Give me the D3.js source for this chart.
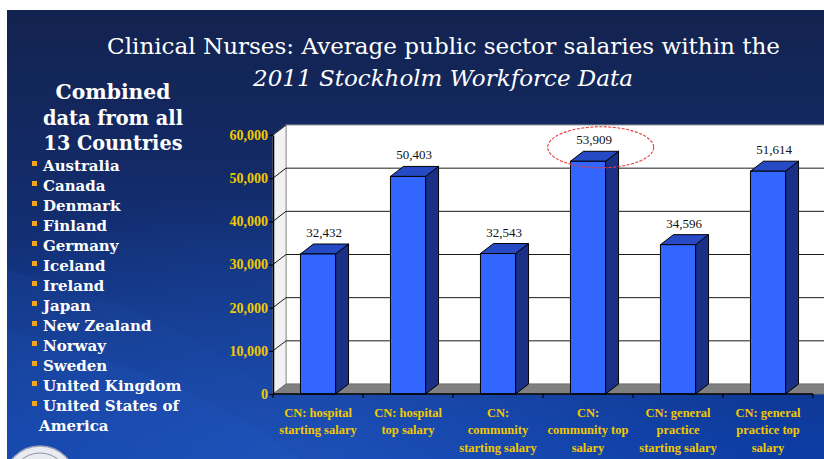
<!DOCTYPE html>
<html><head><meta charset="utf-8">
<script src="https://cdn.jsdelivr.net/npm/d3@7"></script>
<style>html,body{margin:0;padding:0;background:#fff;}svg{display:block;}</style>
</head><body>
<svg id="chart" width="824" height="459"></svg>
<script>
// ---- data ----
const categories = [
  "CN: hospital|starting salary",
  "CN: hospital|top salary",
  "CN:|community|starting salary",
  "CN:|community top|salary",
  "CN: general|practice|starting salary",
  "CN: general|practice  top|salary"
];
const salaries = [32432, 50403, 32543, 53909, 34596, 51614];
const yTicks = [0, 10000, 20000, 30000, 40000, 50000, 60000];
const countries = ["Australia","Canada","Denmark","Finland","Germany","Iceland","Ireland","Japan","New Zealand","Norway","Sweden","United Kingdom","United States of|America"];
const titleLines = ["Clinical Nurses: Average public sector salaries within the", "2011 Stockholm Workforce Data"];
const sideHeading = ["Combined", "data from all", "13 Countries"];
const highlightIndex = 3;

// ---- drawing ----
const svg = d3.select("#chart");
const W = 824, H = 459;
const defs = svg.append("defs");
const bg = defs.append("linearGradient").attr("id","bg").attr("x1",0).attr("y1",0).attr("x2",0).attr("y2",1);
bg.append("stop").attr("offset","0%").attr("stop-color","#13234f");
bg.append("stop").attr("offset","35%").attr("stop-color","#132a66");
bg.append("stop").attr("offset","75%").attr("stop-color","#10368a");
bg.append("stop").attr("offset","100%").attr("stop-color","#0c3da6");
const glow = defs.append("radialGradient").attr("id","glow").attr("cx",0.35).attr("cy",1.0).attr("r",0.6);
glow.append("stop").attr("offset","0%").attr("stop-color","#2a60c8").attr("stop-opacity",0.55);
glow.append("stop").attr("offset","100%").attr("stop-color","#2a60c8").attr("stop-opacity",0);

svg.append("rect").attr("width",W).attr("height",H).attr("fill","#fff");
svg.append("rect").attr("x",7).attr("y",10).attr("width",W-7).attr("height",H-10).attr("fill","url(#bg)");
svg.append("rect").attr("x",7).attr("y",10).attr("width",W-7).attr("height",H-10).attr("fill","url(#glow)");
// subtle swoosh
svg.append("path").attr("d","M7,330 C120,360 230,400 300,459 L7,459 Z").attr("fill","#2457b8").attr("opacity",0.25);
svg.append("path").attr("d","M7,270 C140,300 260,360 330,459 L300,459 C230,400 120,360 7,330 Z").attr("fill","#1f4ea8").attr("opacity",0.18);

// title
const title = svg.append("g").attr("fill","#fff").attr("font-family","DejaVu Serif");
title.append("text").attr("x",107).attr("y",54).attr("font-size",22)
  .attr("textLength",673).attr("lengthAdjust","spacingAndGlyphs").text(titleLines[0]);
title.append("text").attr("x",253).attr("y",86).attr("font-size",22).attr("font-style","italic")
  .attr("textLength",380).attr("lengthAdjust","spacingAndGlyphs").text(titleLines[1]);

// side panel
const side = svg.append("g").attr("fill","#fff").attr("font-family","DejaVu Serif").attr("font-weight","bold");
const headWidths = [115, 140, 139];
sideHeading.forEach((t,i)=>{
  side.append("text").attr("x",113).attr("y",99 + i*25.5).attr("text-anchor","middle")
    .attr("font-size",21).attr("textLength",headWidths[i]).attr("lengthAdjust","spacingAndGlyphs").text(t);
});
let rowY = 171;
countries.forEach((c)=>{
  const parts = c.split("|");
  side.append("rect").attr("x",32).attr("y",rowY-10).attr("width",5).attr("height",5).attr("fill","#f5a51c");
  side.append("text").attr("x",43).attr("y",rowY).attr("font-size",15).text(parts[0]);
  rowY += 20;
  for (let k=1;k<parts.length;k++){
    side.append("text").attr("x",39).attr("y",rowY).attr("font-size",15).text(parts[k]);
    rowY += 20;
  }
});

// seal
const seal = svg.append("g");
seal.append("circle").attr("cx",40).attr("cy",482).attr("r",36).attr("fill","#e9ebf0").attr("stroke","#9aa3b8").attr("stroke-width",1.5);
seal.append("circle").attr("cx",40).attr("cy",482).attr("r",29).attr("fill","none").attr("stroke","#8a93a8").attr("stroke-width",1);
seal.append("circle").attr("cx",40).attr("cy",482).attr("r",20).attr("fill","#d0d6e2");

// ---- 3D bar chart ----
const dx = 13, dy = -10;
const x = d3.scaleBand().domain(categories).range([273, 813]).paddingInner(0.61).paddingOuter(0.305);
const y = d3.scaleLinear().domain([0, 60000]).range([394, 135]);
const x0 = x.range()[0], x1 = x.range()[1];
const yTop = y(60000), yBot = y(0);

const chart = svg.append("g");
// back wall
chart.append("rect").attr("x",x0+dx).attr("y",yTop+dy).attr("width",x1-x0+20).attr("height",yBot-yTop)
  .attr("fill","#ffffff").attr("stroke","#9a9a9a");
// left wall
chart.append("path").attr("d",`M${x0},${yBot} L${x0+dx},${yBot+dy} L${x0+dx},${yTop+dy} L${x0},${yTop} Z`)
  .attr("fill","#f2f2f2").attr("stroke","#9a9a9a");
// gridlines on back wall + left wall diagonals
yTicks.forEach(t=>{
  if (t>0 && t<60000) {
    chart.append("line").attr("x1",x0+dx).attr("x2",W).attr("y1",y(t)+dy).attr("y2",y(t)+dy)
      .attr("stroke","#1a1a1a").attr("stroke-width",1);
  }
  if (t>0) chart.append("line").attr("x1",x0).attr("y1",y(t)).attr("x2",x0+dx).attr("y2",y(t)+dy)
    .attr("stroke","#1a1a1a").attr("stroke-width",1);
});
// floor
chart.append("path").attr("d",`M${x0},${yBot} L${x1+20},${yBot} L${x1+20+dx},${yBot+dy} L${x0+dx},${yBot+dy} Z`)
  .attr("fill","#808080").attr("stroke","#6e6e6e").attr("stroke-width",0.8);

// bars
const bw = x.bandwidth();
const bars = chart.selectAll("g.bar").data(categories).join("g").attr("class","bar");
bars.each(function(c,i){
  const g = d3.select(this);
  const bx = x(c), by = y(salaries[i]);
  g.append("path").attr("d",`M${bx+bw},${by} L${bx+bw+dx},${by+dy} L${bx+bw+dx},${yBot+dy} L${bx+bw},${yBot} Z`)
    .attr("fill","#1a2f86").attr("stroke","#000").attr("stroke-width",1).attr("stroke-linejoin","round");
  g.append("path").attr("d",`M${bx},${by} L${bx+dx},${by+dy} L${bx+bw+dx},${by+dy} L${bx+bw},${by} Z`)
    .attr("fill","#2649c4").attr("stroke","#000").attr("stroke-width",1).attr("stroke-linejoin","round");
  g.append("rect").attr("x",bx).attr("y",by).attr("width",bw).attr("height",yBot-by)
    .attr("fill","#3366ff").attr("stroke","#000").attr("stroke-width",1);
  g.append("text").attr("x",bx+bw/2+6).attr("y",by+dy-7).attr("text-anchor","middle")
    .attr("font-family","Liberation Serif").attr("font-size",13).attr("fill","#111")
    .style("paint-order","stroke").attr("stroke","#ffffff").attr("stroke-width",1.2)
    .text(d3.format(",")(salaries[i]));
});

// y axis
const yAxis = chart.append("g").attr("transform",`translate(${x0},0)`)
  .call(d3.axisLeft(y).tickValues(yTicks).tickFormat(d3.format(",")).tickSize(4).tickSizeOuter(0));
yAxis.select(".domain").attr("stroke","#000").attr("stroke-width",1.5);
yAxis.selectAll(".tick line").attr("stroke","#000").attr("stroke-width",1.2);
yAxis.selectAll(".tick text").attr("fill","#f2c900").attr("font-family","Liberation Serif")
  .attr("font-weight","bold").attr("font-size",14).attr("x",-5);

// x axis line + ticks at band boundaries
chart.append("line").attr("x1",x0).attr("x2",x1).attr("y1",yBot).attr("y2",yBot).attr("stroke","#000").attr("stroke-width",1.5);
const bounds = categories.map(c=>x(c) - x.step()*x.paddingOuter()).concat([x1]);
chart.selectAll("line.xt").data(bounds).join("line").attr("class","xt")
  .attr("x1",d=>d).attr("x2",d=>d).attr("y1",yBot).attr("y2",yBot+4).attr("stroke","#000").attr("stroke-width",1.2);

// x labels
const xl = chart.append("g").attr("fill","#f2c900").attr("font-family","Liberation Serif").attr("font-weight","bold").attr("font-size",12.5);
categories.forEach(c=>{
  const cx = x(c) + bw/2;
  c.split("|").forEach((ln,k)=>{
    xl.append("text").attr("x",cx).attr("y",417 + k*17.3).attr("text-anchor","middle").text(ln);
  });
});

// highlight ellipse
const hc = categories[highlightIndex];
chart.append("ellipse").attr("cx",x(hc)+bw/2+12.7).attr("cy",y(salaries[highlightIndex])+dy-4)
  .attr("rx",53).attr("ry",20.5).attr("fill","none").attr("stroke","#e8393a").attr("stroke-width",1.1)
  .attr("stroke-dasharray","3,1.5");
</script>
</body></html>
